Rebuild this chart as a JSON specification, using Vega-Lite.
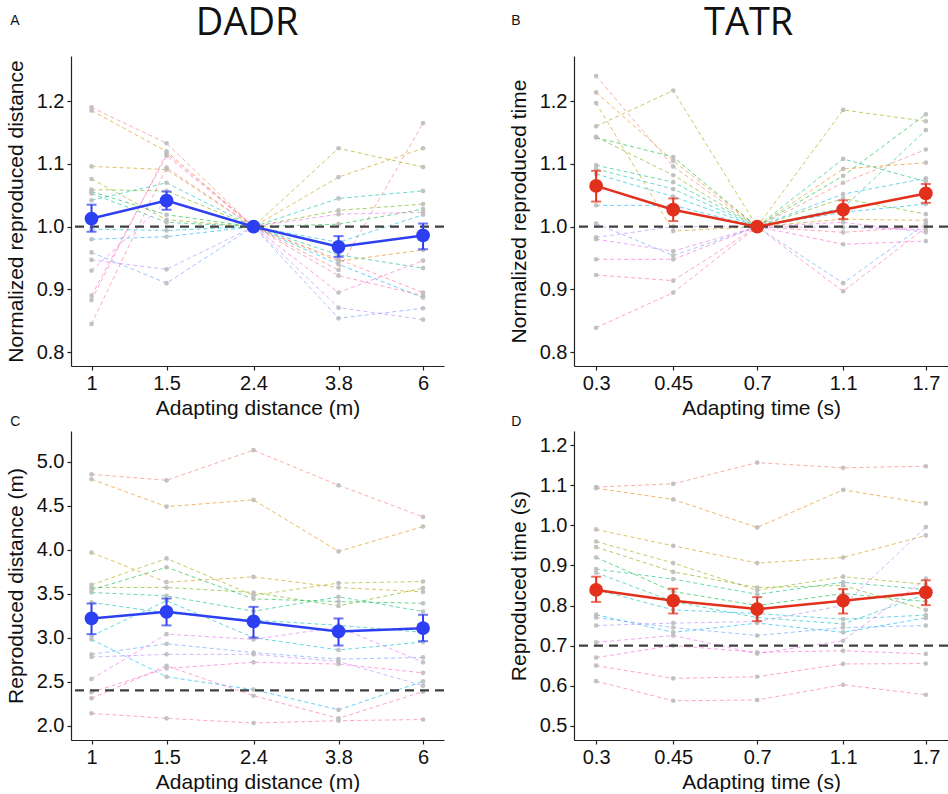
{
"$schema":"https://vega.github.io/schema/vega-lite/v6.json",
"padding":{"left":5,"top":5,"right":0,"bottom":0},
"config":{"view":{"stroke":null},"font":"Liberation Sans",
"axis":{"grid":false,"domainColor":"#222","domainWidth":1.2,"tickColor":"#222","tickSize":4,"tickWidth":1.2,"labelFontSize":20,"labelColor":"#111","labelPadding":3,"labelFlush":false,"labelOverlap":false,"titleFontSize":21,"titleFontWeight":"normal","titleColor":"#111","titlePadding":10},
"axisX":{"titlePadding":4},
"title":{"font":"Liberation Sans","fontWeight":"normal","color":"#111"}},
"datasets":{
"a":[{"s":1,"x":1,"y":1.19},{"s":1,"x":1.5,"y":1.133},{"s":1,"x":2.4,"y":1},{"s":1,"x":3.8,"y":0.931},{"s":1,"x":6,"y":1.165},
{"s":2,"x":1,"y":1.185},{"s":2,"x":1.5,"y":1.12},{"s":2,"x":2.4,"y":1},{"s":2,"x":3.8,"y":0.945},{"s":2,"x":6,"y":0.963},
{"s":3,"x":1,"y":1.096},{"s":3,"x":1.5,"y":1.091},{"s":3,"x":2.4,"y":1},{"s":3,"x":3.8,"y":1.079},{"s":3,"x":6,"y":1.125},
{"s":4,"x":1,"y":1.076},{"s":4,"x":1.5,"y":1.011},{"s":4,"x":2.4,"y":1},{"s":4,"x":3.8,"y":1.125},{"s":4,"x":6,"y":1.095},
{"s":5,"x":1,"y":1.059},{"s":5,"x":1.5,"y":1.057},{"s":5,"x":2.4,"y":1},{"s":5,"x":3.8,"y":1.026},{"s":5,"x":6,"y":1.036},
{"s":6,"x":1,"y":1.056},{"s":6,"x":1.5,"y":1.019},{"s":6,"x":2.4,"y":1},{"s":6,"x":3.8,"y":1.004},{"s":6,"x":6,"y":1.028},
{"s":7,"x":1,"y":1.053},{"s":7,"x":1.5,"y":1.007},{"s":7,"x":2.4,"y":1},{"s":7,"x":3.8,"y":0.955},{"s":7,"x":6,"y":0.934},
{"s":8,"x":1,"y":1.042},{"s":8,"x":1.5,"y":1.07},{"s":8,"x":2.4,"y":1},{"s":8,"x":3.8,"y":1.045},{"s":8,"x":6,"y":1.057},
{"s":9,"x":1,"y":0.996},{"s":9,"x":1.5,"y":0.994},{"s":9,"x":2.4,"y":1},{"s":9,"x":3.8,"y":0.975},{"s":9,"x":6,"y":1.019},
{"s":10,"x":1,"y":0.98},{"s":10,"x":1.5,"y":0.984},{"s":10,"x":2.4,"y":1},{"s":10,"x":3.8,"y":0.94},{"s":10,"x":6,"y":0.887},
{"s":11,"x":1,"y":0.959},{"s":11,"x":1.5,"y":0.91},{"s":11,"x":2.4,"y":1},{"s":11,"x":3.8,"y":0.854},{"s":11,"x":6,"y":0.87},
{"s":12,"x":1,"y":0.947},{"s":12,"x":1.5,"y":0.932},{"s":12,"x":2.4,"y":1},{"s":12,"x":3.8,"y":0.871},{"s":12,"x":6,"y":0.852},
{"s":13,"x":1,"y":0.93},{"s":13,"x":1.5,"y":1.04},{"s":13,"x":2.4,"y":1},{"s":13,"x":3.8,"y":1.02},{"s":13,"x":6,"y":1.023},
{"s":14,"x":1,"y":0.89},{"s":14,"x":1.5,"y":1.113},{"s":14,"x":2.4,"y":1},{"s":14,"x":3.8,"y":0.895},{"s":14,"x":6,"y":0.946},
{"s":15,"x":1,"y":0.883},{"s":15,"x":1.5,"y":1.117},{"s":15,"x":2.4,"y":1},{"s":15,"x":3.8,"y":0.922},{"s":15,"x":6,"y":0.89},
{"s":16,"x":1,"y":0.845},{"s":16,"x":1.5,"y":1.094},{"s":16,"x":2.4,"y":1},{"s":16,"x":3.8,"y":0.948},{"s":16,"x":6,"y":0.895}],
"b":[{"s":1,"x":0.3,"y":1.24},{"s":1,"x":0.45,"y":1.096},{"s":1,"x":0.7,"y":1},{"s":1,"x":1.1,"y":1.07},{"s":1,"x":1.7,"y":1.123},
{"s":2,"x":0.3,"y":1.214},{"s":2,"x":0.45,"y":1.105},{"s":2,"x":0.7,"y":1},{"s":2,"x":1.1,"y":1.092},{"s":2,"x":1.7,"y":1.102},
{"s":3,"x":0.3,"y":1.197},{"s":3,"x":0.45,"y":0.993},{"s":3,"x":0.7,"y":1},{"s":3,"x":1.1,"y":1.012},{"s":3,"x":1.7,"y":1.01},
{"s":4,"x":0.3,"y":1.16},{"s":4,"x":0.45,"y":1.217},{"s":4,"x":0.7,"y":1},{"s":4,"x":1.1,"y":1.186},{"s":4,"x":1.7,"y":1.168},
{"s":5,"x":0.3,"y":1.143},{"s":5,"x":0.45,"y":1.082},{"s":5,"x":0.7,"y":1},{"s":5,"x":1.1,"y":1.045},{"s":5,"x":1.7,"y":1.02},
{"s":6,"x":0.3,"y":1.142},{"s":6,"x":0.45,"y":1.111},{"s":6,"x":0.7,"y":1},{"s":6,"x":1.1,"y":1.081},{"s":6,"x":1.7,"y":1.179},
{"s":7,"x":0.3,"y":1.098},{"s":7,"x":0.45,"y":1.071},{"s":7,"x":0.7,"y":1},{"s":7,"x":1.1,"y":1.108},{"s":7,"x":1.7,"y":1.072},
{"s":8,"x":0.3,"y":1.092},{"s":8,"x":0.45,"y":1.06},{"s":8,"x":0.7,"y":1},{"s":8,"x":1.1,"y":1.03},{"s":8,"x":1.7,"y":1.154},
{"s":9,"x":0.3,"y":1.084},{"s":9,"x":0.45,"y":1.048},{"s":9,"x":0.7,"y":1},{"s":9,"x":1.1,"y":1.052},{"s":9,"x":1.7,"y":1.077},
{"s":10,"x":0.3,"y":1.034},{"s":10,"x":0.45,"y":1.034},{"s":10,"x":0.7,"y":1},{"s":10,"x":1.1,"y":1.023},{"s":10,"x":1.7,"y":1.036},
{"s":11,"x":0.3,"y":1.005},{"s":11,"x":0.45,"y":0.954},{"s":11,"x":0.7,"y":1},{"s":11,"x":1.1,"y":0.91},{"s":11,"x":1.7,"y":1.005},
{"s":12,"x":0.3,"y":0.983},{"s":12,"x":0.45,"y":1.0},{"s":12,"x":0.7,"y":1},{"s":12,"x":1.1,"y":0.999},{"s":12,"x":1.7,"y":0.995},
{"s":13,"x":0.3,"y":0.98},{"s":13,"x":0.45,"y":0.961},{"s":13,"x":0.7,"y":1},{"s":13,"x":1.1,"y":1.007},{"s":13,"x":1.7,"y":0.991},
{"s":14,"x":0.3,"y":0.948},{"s":14,"x":0.45,"y":0.948},{"s":14,"x":0.7,"y":1},{"s":14,"x":1.1,"y":0.972},{"s":14,"x":1.7,"y":0.977},
{"s":15,"x":0.3,"y":0.923},{"s":15,"x":0.45,"y":0.914},{"s":15,"x":0.7,"y":1},{"s":15,"x":1.1,"y":0.897},{"s":15,"x":1.7,"y":0.999},
{"s":16,"x":0.3,"y":0.839},{"s":16,"x":0.45,"y":0.895},{"s":16,"x":0.7,"y":1},{"s":16,"x":1.1,"y":0.991},{"s":16,"x":1.7,"y":1.0}],
"c":[{"s":1,"x":1,"y":4.856},{"s":1,"x":1.5,"y":4.788},{"s":1,"x":2.4,"y":5.13},{"s":1,"x":3.8,"y":4.731},{"s":1,"x":6,"y":4.372},
{"s":2,"x":1,"y":4.8},{"s":2,"x":1.5,"y":4.489},{"s":2,"x":2.4,"y":4.565},{"s":2,"x":3.8,"y":3.98},{"s":2,"x":6,"y":4.262},
{"s":3,"x":1,"y":3.967},{"s":3,"x":1.5,"y":3.63},{"s":3,"x":2.4,"y":3.69},{"s":3,"x":3.8,"y":3.57},{"s":3,"x":6,"y":3.52},
{"s":4,"x":1,"y":3.6},{"s":4,"x":1.5,"y":3.9},{"s":4,"x":2.4,"y":3.48},{"s":4,"x":3.8,"y":3.62},{"s":4,"x":6,"y":3.638},
{"s":5,"x":1,"y":3.57},{"s":5,"x":1.5,"y":3.57},{"s":5,"x":2.4,"y":3.513},{"s":5,"x":3.8,"y":3.36},{"s":5,"x":6,"y":3.563},
{"s":6,"x":1,"y":3.543},{"s":6,"x":1.5,"y":3.8},{"s":6,"x":2.4,"y":3.44},{"s":6,"x":3.8,"y":3.41},{"s":6,"x":6,"y":3.39},
{"s":7,"x":1,"y":3.513},{"s":7,"x":1.5,"y":3.475},{"s":7,"x":2.4,"y":3.3},{"s":7,"x":3.8,"y":3.464},{"s":7,"x":6,"y":3.297},
{"s":8,"x":1,"y":3.4},{"s":8,"x":1.5,"y":3.28},{"s":8,"x":2.4,"y":3.2},{"s":8,"x":3.8,"y":3.14},{"s":8,"x":6,"y":3.06},
{"s":9,"x":1,"y":3.02},{"s":9,"x":1.5,"y":3.42},{"s":9,"x":2.4,"y":3.0},{"s":9,"x":3.8,"y":2.86},{"s":9,"x":6,"y":2.95},
{"s":10,"x":1,"y":2.98},{"s":10,"x":1.5,"y":2.555},{"s":10,"x":2.4,"y":2.41},{"s":10,"x":3.8,"y":2.18},{"s":10,"x":6,"y":2.503},
{"s":11,"x":1,"y":2.81},{"s":11,"x":1.5,"y":2.93},{"s":11,"x":2.4,"y":2.83},{"s":11,"x":3.8,"y":2.756},{"s":11,"x":6,"y":2.775},
{"s":12,"x":1,"y":2.78},{"s":12,"x":1.5,"y":2.81},{"s":12,"x":2.4,"y":2.81},{"s":12,"x":3.8,"y":2.73},{"s":12,"x":6,"y":2.454},
{"s":13,"x":1,"y":2.53},{"s":13,"x":1.5,"y":3.04},{"s":13,"x":2.4,"y":2.98},{"s":13,"x":3.8,"y":3.12},{"s":13,"x":6,"y":2.72},
{"s":14,"x":1,"y":2.38},{"s":14,"x":1.5,"y":2.65},{"s":14,"x":2.4,"y":2.72},{"s":14,"x":3.8,"y":2.7},{"s":14,"x":6,"y":2.6},
{"s":15,"x":1,"y":2.31},{"s":15,"x":1.5,"y":2.68},{"s":15,"x":2.4,"y":2.34},{"s":15,"x":3.8,"y":2.083},{"s":15,"x":6,"y":2.386},
{"s":16,"x":1,"y":2.14},{"s":16,"x":1.5,"y":2.083},{"s":16,"x":2.4,"y":2.03},{"s":16,"x":3.8,"y":2.056},{"s":16,"x":6,"y":2.07}],
"d":[{"s":1,"x":0.3,"y":1.096},{"s":1,"x":0.45,"y":1.104},{"s":1,"x":0.7,"y":1.157},{"s":1,"x":1.1,"y":1.144},{"s":1,"x":1.7,"y":1.148},
{"s":2,"x":0.3,"y":1.093},{"s":2,"x":0.45,"y":1.065},{"s":2,"x":0.7,"y":0.995},{"s":2,"x":1.1,"y":1.089},{"s":2,"x":1.7,"y":1.055},
{"s":3,"x":0.3,"y":0.99},{"s":3,"x":0.45,"y":0.949},{"s":3,"x":0.7,"y":0.906},{"s":3,"x":1.1,"y":0.92},{"s":3,"x":1.7,"y":0.975},
{"s":4,"x":0.3,"y":0.96},{"s":4,"x":0.45,"y":0.906},{"s":4,"x":0.7,"y":0.838},{"s":4,"x":1.1,"y":0.872},{"s":4,"x":1.7,"y":0.853},
{"s":5,"x":0.3,"y":0.946},{"s":5,"x":0.45,"y":0.884},{"s":5,"x":0.7,"y":0.845},{"s":5,"x":1.1,"y":0.85},{"s":5,"x":1.7,"y":0.789},
{"s":6,"x":0.3,"y":0.92},{"s":6,"x":0.45,"y":0.835},{"s":6,"x":0.7,"y":0.8},{"s":6,"x":1.1,"y":0.83},{"s":6,"x":1.7,"y":0.81},
{"s":7,"x":0.3,"y":0.891},{"s":7,"x":0.45,"y":0.866},{"s":7,"x":0.7,"y":0.828},{"s":7,"x":1.1,"y":0.858},{"s":7,"x":1.7,"y":0.84},
{"s":8,"x":0.3,"y":0.882},{"s":8,"x":0.45,"y":0.81},{"s":8,"x":0.7,"y":0.77},{"s":8,"x":1.1,"y":0.754},{"s":8,"x":1.7,"y":0.828},
{"s":9,"x":0.3,"y":0.84},{"s":9,"x":0.45,"y":0.789},{"s":9,"x":0.7,"y":0.78},{"s":9,"x":1.1,"y":0.766},{"s":9,"x":1.7,"y":0.776},
{"s":10,"x":0.3,"y":0.777},{"s":10,"x":0.45,"y":0.733},{"s":10,"x":0.7,"y":0.756},{"s":10,"x":1.1,"y":0.733},{"s":10,"x":1.7,"y":0.769},
{"s":11,"x":0.3,"y":0.77},{"s":11,"x":0.45,"y":0.745},{"s":11,"x":0.7,"y":0.725},{"s":11,"x":1.1,"y":0.745},{"s":11,"x":1.7,"y":0.75},
{"s":12,"x":0.3,"y":0.75},{"s":12,"x":0.45,"y":0.756},{"s":12,"x":0.7,"y":0.76},{"s":12,"x":1.1,"y":0.8},{"s":12,"x":1.7,"y":0.996},
{"s":13,"x":0.3,"y":0.708},{"s":13,"x":0.45,"y":0.725},{"s":13,"x":0.7,"y":0.68},{"s":13,"x":1.1,"y":0.712},{"s":13,"x":1.7,"y":0.867},
{"s":14,"x":0.3,"y":0.67},{"s":14,"x":0.45,"y":0.7},{"s":14,"x":0.7,"y":0.683},{"s":14,"x":1.1,"y":0.687},{"s":14,"x":1.7,"y":0.679},
{"s":15,"x":0.3,"y":0.65},{"s":15,"x":0.45,"y":0.618},{"s":15,"x":0.7,"y":0.622},{"s":15,"x":1.1,"y":0.654},{"s":15,"x":1.7,"y":0.655},
{"s":16,"x":0.3,"y":0.611},{"s":16,"x":0.45,"y":0.562},{"s":16,"x":0.7,"y":0.564},{"s":16,"x":1.1,"y":0.602},{"s":16,"x":1.7,"y":0.577}],
"ma":[{"x":1,"m":1.013,"lo":0.992,"hi":1.035},{"x":1.5,"m":1.0415,"lo":1.027,"hi":1.056},{"x":2.4,"m":1,"lo":1,"hi":1},{"x":3.8,"m":0.968,"lo":0.952,"hi":0.985},{"x":6,"m":0.986,"lo":0.964,"hi":1.005}],
"mb":[{"x":0.3,"m":1.065,"lo":1.04,"hi":1.089},{"x":0.45,"m":1.027,"lo":1.009,"hi":1.045},{"x":0.7,"m":1,"lo":1,"hi":1},{"x":1.1,"m":1.027,"lo":1.012,"hi":1.042},{"x":1.7,"m":1.053,"lo":1.038,"hi":1.068}],
"mc":[{"x":1,"m":3.218,"lo":3.04,"hi":3.388},{"x":1.5,"m":3.294,"lo":3.139,"hi":3.445},{"x":2.4,"m":3.184,"lo":3.0,"hi":3.35},{"x":3.8,"m":3.07,"lo":2.911,"hi":3.218},{"x":6,"m":3.108,"lo":2.96,"hi":3.26}],
"md":[{"x":0.3,"m":0.839,"lo":0.809,"hi":0.872},{"x":0.45,"m":0.812,"lo":0.78,"hi":0.842},{"x":0.7,"m":0.791,"lo":0.761,"hi":0.821},{"x":1.1,"m":0.812,"lo":0.78,"hi":0.841},{"x":1.7,"m":0.833,"lo":0.801,"hi":0.863}],
"one":[{"r":1}]
},
"hconcat":[
{"title":{"text":"DADR","fontSize":38,"font":"Open Sans","anchor":"middle","frame":"bounds","dx":22,"dy":33},
"spacing":65,"bounds":"flush","resolve":{"scale":{"x":"independent","y":"independent"}},
"vconcat":[
{"width":373,"height":310,"title":{"text":"A","anchor":"start","frame":"bounds","fontSize":14,"offset":28,"dx":5},
"layer":[
{"data":{"name":"a"},"mark":{"type":"line","strokeDash":[4,3],"strokeWidth":1,"opacity":0.6},"encoding":{"x":{"field":"x","type":"quantitative","scale":{"type":"log","domain":[0.895,6.72],"nice":false},"axis":{"values":[1,1.5,2.4,3.8,6],"format":"~g","title":"Adapting distance (m)"}},"y":{"field":"y","type":"quantitative","scale":{"domain":[0.778,1.272],"nice":false,"zero":false},"axis":{"values":[0.8,0.9,1,1.1,1.2],"format":".1f","title":"Normalized reproduced distance"}},"color":{"field":"s","type":"nominal","scale":{"range":["#F8766D","#E58700","#C99800","#A3A500","#6BB100","#00BA38","#00BF7D","#00C0AF","#00BCD8","#00B0F6","#619CFF","#B983FF","#E76BF3","#FD61D1","#FF67A4","#FF6C91"]},"legend":null}}},
{"data":{"name":"a"},"mark":{"type":"circle","size":22,"color":"#BDBDBD","opacity":0.9},"encoding":{"x":{"field":"x","type":"quantitative"},"y":{"field":"y","type":"quantitative"}}},
{"data":{"name":"one"},"mark":{"type":"rule","color":"#404040","strokeWidth":2.2,"strokeDash":[9,6]},"encoding":{"y":{"datum":1}}},
{"data":{"name":"ma"},"mark":{"type":"line","color":"#2D3FF2","strokeWidth":2.5},"encoding":{"x":{"field":"x","type":"quantitative"},"y":{"field":"m","type":"quantitative"}}},
{"data":{"name":"ma"},"mark":{"type":"rule","color":"#2D3FF2","strokeWidth":2},"encoding":{"x":{"field":"x","type":"quantitative"},"y":{"field":"lo","type":"quantitative"},"y2":{"field":"hi"}}},
{"data":{"name":"ma"},"mark":{"type":"tick","color":"#2D3FF2","orient":"horizontal","size":10,"thickness":2},"encoding":{"x":{"field":"x","type":"quantitative"},"y":{"field":"lo","type":"quantitative"}}},
{"data":{"name":"ma"},"mark":{"type":"tick","color":"#2D3FF2","orient":"horizontal","size":10,"thickness":2},"encoding":{"x":{"field":"x","type":"quantitative"},"y":{"field":"hi","type":"quantitative"}}},
{"data":{"name":"ma"},"mark":{"type":"circle","color":"#2D3FF2","size":190,"opacity":1},"encoding":{"x":{"field":"x","type":"quantitative"},"y":{"field":"m","type":"quantitative"}}}
]},
{"width":373,"height":309,"title":{"text":"C","anchor":"start","frame":"bounds","fontSize":14,"offset":2,"dx":5},
"layer":[
{"data":{"name":"c"},"mark":{"type":"line","strokeDash":[4,3],"strokeWidth":1,"opacity":0.6},"encoding":{"x":{"field":"x","type":"quantitative","scale":{"type":"log","domain":[0.895,6.72],"nice":false},"axis":{"values":[1,1.5,2.4,3.8,6],"format":"~g","title":"Adapting distance (m)"}},"y":{"field":"y","type":"quantitative","scale":{"domain":[1.837,5.348],"nice":false,"zero":false},"axis":{"values":[2,2.5,3,3.5,4,4.5,5],"format":".1f","title":"Reproduced distance (m)"}},"color":{"field":"s","type":"nominal","legend":null}}},
{"data":{"name":"c"},"mark":{"type":"circle","size":22,"color":"#BDBDBD","opacity":0.9},"encoding":{"x":{"field":"x","type":"quantitative"},"y":{"field":"y","type":"quantitative"}}},
{"data":{"name":"one"},"mark":{"type":"rule","color":"#404040","strokeWidth":2.2,"strokeDash":[9,6]},"encoding":{"y":{"datum":2.4}}},
{"data":{"name":"mc"},"mark":{"type":"line","color":"#2D3FF2","strokeWidth":2.5},"encoding":{"x":{"field":"x","type":"quantitative"},"y":{"field":"m","type":"quantitative"}}},
{"data":{"name":"mc"},"mark":{"type":"rule","color":"#2D3FF2","strokeWidth":2},"encoding":{"x":{"field":"x","type":"quantitative"},"y":{"field":"lo","type":"quantitative"},"y2":{"field":"hi"}}},
{"data":{"name":"mc"},"mark":{"type":"tick","color":"#2D3FF2","orient":"horizontal","size":10,"thickness":2},"encoding":{"x":{"field":"x","type":"quantitative"},"y":{"field":"lo","type":"quantitative"}}},
{"data":{"name":"mc"},"mark":{"type":"tick","color":"#2D3FF2","orient":"horizontal","size":10,"thickness":2},"encoding":{"x":{"field":"x","type":"quantitative"},"y":{"field":"hi","type":"quantitative"}}},
{"data":{"name":"mc"},"mark":{"type":"circle","color":"#2D3FF2","size":190,"opacity":1},"encoding":{"x":{"field":"x","type":"quantitative"},"y":{"field":"m","type":"quantitative"}}}
]}
]},
{"title":{"text":"TATR","fontSize":38,"font":"Open Sans","anchor":"middle","frame":"bounds","dx":20,"dy":33},
"spacing":65,"bounds":"flush","resolve":{"scale":{"x":"independent","y":"independent"}},
"vconcat":[
{"width":374,"height":310,"title":{"text":"B","anchor":"start","frame":"bounds","fontSize":14,"offset":28,"dx":3},
"layer":[
{"data":{"name":"b"},"mark":{"type":"line","strokeDash":[4,3],"strokeWidth":1,"opacity":0.6},"encoding":{"x":{"field":"x","type":"quantitative","scale":{"type":"log","domain":[0.267,1.91],"nice":false},"axis":{"values":[0.3,0.45,0.7,1.1,1.7],"format":"~g","title":"Adapting time (s)"}},"y":{"field":"y","type":"quantitative","scale":{"domain":[0.778,1.272],"nice":false,"zero":false},"axis":{"values":[0.8,0.9,1,1.1,1.2],"format":".1f","title":"Normalized reproduced time"}},"color":{"field":"s","type":"nominal","legend":null}}},
{"data":{"name":"b"},"mark":{"type":"circle","size":22,"color":"#BDBDBD","opacity":0.9},"encoding":{"x":{"field":"x","type":"quantitative"},"y":{"field":"y","type":"quantitative"}}},
{"data":{"name":"one"},"mark":{"type":"rule","color":"#404040","strokeWidth":2.2,"strokeDash":[9,6]},"encoding":{"y":{"datum":1}}},
{"data":{"name":"mb"},"mark":{"type":"line","color":"#E2301D","strokeWidth":2.5},"encoding":{"x":{"field":"x","type":"quantitative"},"y":{"field":"m","type":"quantitative"}}},
{"data":{"name":"mb"},"mark":{"type":"rule","color":"#E2301D","strokeWidth":2},"encoding":{"x":{"field":"x","type":"quantitative"},"y":{"field":"lo","type":"quantitative"},"y2":{"field":"hi"}}},
{"data":{"name":"mb"},"mark":{"type":"tick","color":"#E2301D","orient":"horizontal","size":10,"thickness":2},"encoding":{"x":{"field":"x","type":"quantitative"},"y":{"field":"lo","type":"quantitative"}}},
{"data":{"name":"mb"},"mark":{"type":"tick","color":"#E2301D","orient":"horizontal","size":10,"thickness":2},"encoding":{"x":{"field":"x","type":"quantitative"},"y":{"field":"hi","type":"quantitative"}}},
{"data":{"name":"mb"},"mark":{"type":"circle","color":"#E2301D","size":190,"opacity":1},"encoding":{"x":{"field":"x","type":"quantitative"},"y":{"field":"m","type":"quantitative"}}}
]},
{"width":374,"height":309,"title":{"text":"D","anchor":"start","frame":"bounds","fontSize":14,"offset":2,"dx":3},
"layer":[
{"data":{"name":"d"},"mark":{"type":"line","strokeDash":[4,3],"strokeWidth":1,"opacity":0.6},"encoding":{"x":{"field":"x","type":"quantitative","scale":{"type":"log","domain":[0.267,1.91],"nice":false},"axis":{"values":[0.3,0.45,0.7,1.1,1.7],"format":"~g","title":"Adapting time (s)"}},"y":{"field":"y","type":"quantitative","scale":{"domain":[0.464,1.236],"nice":false,"zero":false},"axis":{"values":[0.5,0.6,0.7,0.8,0.9,1,1.1,1.2],"format":".1f","title":"Reproduced time (s)"}},"color":{"field":"s","type":"nominal","legend":null}}},
{"data":{"name":"d"},"mark":{"type":"circle","size":22,"color":"#BDBDBD","opacity":0.9},"encoding":{"x":{"field":"x","type":"quantitative"},"y":{"field":"y","type":"quantitative"}}},
{"data":{"name":"one"},"mark":{"type":"rule","color":"#404040","strokeWidth":2.2,"strokeDash":[9,6]},"encoding":{"y":{"datum":0.7}}},
{"data":{"name":"md"},"mark":{"type":"line","color":"#E2301D","strokeWidth":2.5},"encoding":{"x":{"field":"x","type":"quantitative"},"y":{"field":"m","type":"quantitative"}}},
{"data":{"name":"md"},"mark":{"type":"rule","color":"#E2301D","strokeWidth":2},"encoding":{"x":{"field":"x","type":"quantitative"},"y":{"field":"lo","type":"quantitative"},"y2":{"field":"hi"}}},
{"data":{"name":"md"},"mark":{"type":"tick","color":"#E2301D","orient":"horizontal","size":10,"thickness":2},"encoding":{"x":{"field":"x","type":"quantitative"},"y":{"field":"lo","type":"quantitative"}}},
{"data":{"name":"md"},"mark":{"type":"tick","color":"#E2301D","orient":"horizontal","size":10,"thickness":2},"encoding":{"x":{"field":"x","type":"quantitative"},"y":{"field":"hi","type":"quantitative"}}},
{"data":{"name":"md"},"mark":{"type":"circle","color":"#E2301D","size":190,"opacity":1},"encoding":{"x":{"field":"x","type":"quantitative"},"y":{"field":"m","type":"quantitative"}}}
]}
]}
],
"spacing":62,"resolve":{"scale":{"x":"independent","y":"independent"}}
}
